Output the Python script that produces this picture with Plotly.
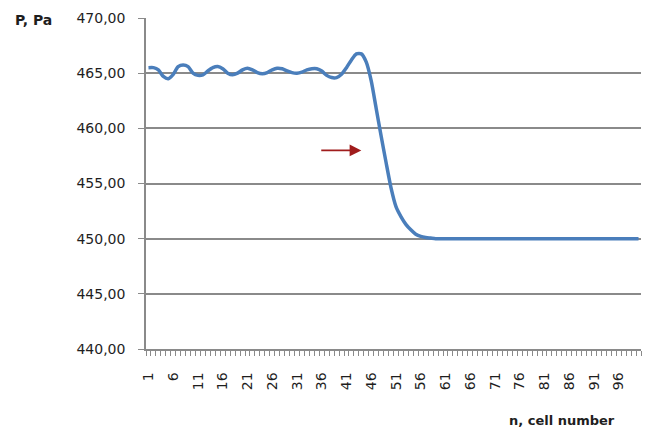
import plotly.graph_objects as go

cells = list(range(1, 101))
pressure = [
    465.5, 465.5, 465.3, 464.7, 464.5, 464.9, 465.6, 465.75, 465.6, 465.0,
    464.8, 464.85, 465.2, 465.5, 465.6, 465.4, 465.0, 464.85, 465.0, 465.3,
    465.45, 465.3, 465.05, 464.95, 465.05, 465.3, 465.45, 465.4, 465.2, 465.05,
    465.0, 465.1, 465.3, 465.4, 465.4, 465.2, 464.8, 464.6, 464.6, 464.9,
    465.5, 466.2, 466.75, 466.75, 466.0, 464.3, 461.8, 459.3, 456.9, 454.6,
    452.9, 452.0, 451.3, 450.8, 450.4, 450.2, 450.1, 450.05, 450.0, 450.0,
] + [450.0] * 40
tick_cells = list(range(1, 100, 5))
y_ticks = [440, 445, 450, 455, 460, 465, 470]

FONT = "DejaVu Sans"
GRID = "#8a8a8a"
TEXT = "#1e1e1e"

fig = go.Figure()
fig.add_trace(go.Scatter(
    x=cells, y=pressure, mode="lines",
    line=dict(color="#4a7ebb", width=3.5, shape="spline", smoothing=0.6),
    showlegend=False, hoverinfo="skip",
))

fig.update_layout(
    width=647, height=430,
    margin=dict(l=146, r=6, t=18, b=81),
    paper_bgcolor="white", plot_bgcolor="white",
    separators=", ",
    font=dict(family=FONT, size=13, color=TEXT),
    xaxis=dict(
        range=[0.5, 100.5], tickmode="array", tickvals=tick_cells,
        ticktext=[str(v) for v in tick_cells], tickangle=-90,
        ticks="", ticklabelstandoff=16, showgrid=False, zeroline=False,
        showline=True, linecolor=GRID, linewidth=1.5,
        tickfont=dict(family=FONT, size=14, color=TEXT),
        minor=dict(tick0=0.5, dtick=1, ticks="outside", ticklen=5,
                   tickcolor=GRID, tickwidth=1, showgrid=False),
    ),
    yaxis=dict(
        range=[440, 470], tickmode="array", tickvals=y_ticks,
        tickformat=".2f", ticks="outside", ticklen=6, tickcolor=GRID,
        ticklabelstandoff=10,
        showgrid=True, gridcolor=GRID, gridwidth=1.5, zeroline=False,
        showline=True, linecolor=GRID, linewidth=1.5,
        tickfont=dict(family=FONT, size=14, color=TEXT),
    ),
    annotations=[
        dict(text="<b>P, Pa</b>", xref="paper", yref="paper", x=-0.228, y=0.995,
             xanchor="center", yanchor="middle", showarrow=False,
             font=dict(family=FONT, size=14, color=TEXT)),
        dict(text="<b>n, cell number</b>", xref="paper", yref="paper",
             x=0.84, y=-0.215, xanchor="center", yanchor="middle",
             showarrow=False, font=dict(family=FONT, size=13, color=TEXT)),
        dict(x=44.0, y=458.0, ax=35.6, ay=458.0, xref="x", yref="y",
             axref="x", ayref="y", text="", showarrow=True,
             arrowhead=2, arrowsize=1.3, arrowwidth=1.8, arrowcolor="#a01c1c"),
    ],
)

fig.write_html("out.html")
